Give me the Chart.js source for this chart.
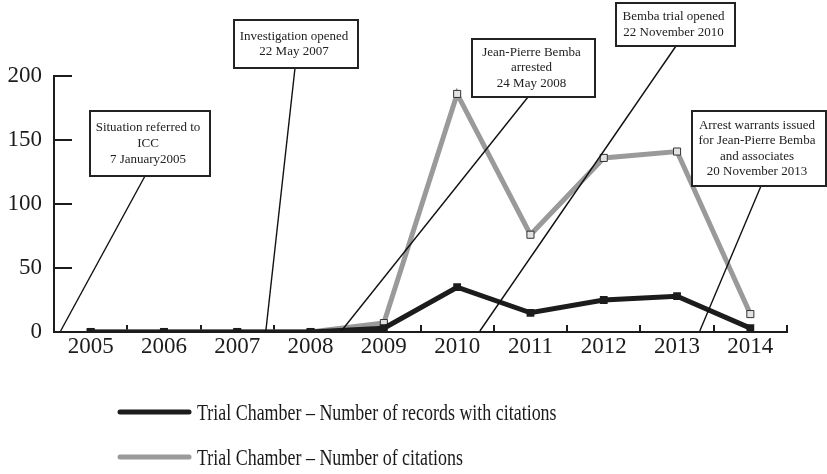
<!DOCTYPE html>
<html>
<head>
<meta charset="utf-8">
<script src="https://cdn.jsdelivr.net/npm/chart.js@4.4.0/dist/chart.umd.min.js"></script>
<style>
  html, body { margin: 0; padding: 0; background: #fff; }
  #wrap { width: 827px; height: 474px; }
</style>
</head>
<body>
<div id="wrap"><canvas id="graficoCitas" width="827" height="474"></canvas></div>
<script>
// data
const years = ['2005', '2006', '2007', '2008', '2009', '2010', '2011', '2012', '2013', '2014'];
const recordsWithCitations = [0, 0, 0, 0, 3, 35, 15, 25, 28, 3];
const numberOfCitations = [0, 0, 0, 0, 7, 186, 76, 136, 141, 14];
const yTicks = [0, 50, 100, 150, 200];
const seriesLabels = [
    'Trial Chamber \u2013 Number of records with citations',
    'Trial Chamber \u2013 Number of citations'
];
const eventTexts = [
    ['Situation referred to', 'ICC', '7 January2005'],
    ['Investigation opened', '22 May 2007'],
    ['Jean-Pierre Bemba', 'arrested', '24 May 2008'],
    ['Bemba trial opened', '22 November 2010'],
    ['Arrest warrants issued', 'for Jean-Pierre Bemba', 'and associates', '20 November 2013']
];

// where each leader line touches the x axis (category index units)
const eventAxisPos = [-0.41, 2.39, 3.42, 5.31, 8.31];
// callout boxes: left, top, width, height, x where the leader leaves the box
const calloutBoxes = [
    { left: 90, top: 111, w: 120, h: 65, lx: 145 },
    { left: 234, top: 20, w: 124, h: 48, lx: 295 },
    { left: 472, top: 39, w: 123, h: 58, lx: 528 },
    { left: 616, top: 3, w: 119, h: 43, lx: 676 },
    { left: 692, top: 111, w: 134, h: 75, lx: 761 }
];

const INK = '#1c1c1c';
const GRIS = '#9a9a9a';
const SERIF = '"Liberation Serif", "Times New Roman", serif';

// tick marks drawn inside the plot, like the original
const marcasEjes = {
    id: 'marcasEjes',
    beforeDatasetsDraw(chart) {
        const { ctx, scales: { x, y } } = chart;
        ctx.save();
        ctx.strokeStyle = INK;
        ctx.lineWidth = 2;
        ctx.beginPath();
        y.ticks.forEach((t) => {
            const py = Math.round(y.getPixelForValue(t.value));
            ctx.moveTo(x.left, py);
            ctx.lineTo(x.left + 18, py);
        });
        for (let i = 0; i <= years.length; i++) {
            const px = Math.round(x.getPixelForValue(i - 0.5));
            ctx.moveTo(px, y.bottom);
            ctx.lineTo(px, y.bottom - 7);
        }
        ctx.stroke();
        ctx.restore();
    }
};

const anotaciones = {
    id: 'anotaciones',
    afterDatasetsDraw(chart) {
        const { ctx, scales: { x, y } } = chart;
        ctx.save();
        // leader lines
        ctx.strokeStyle = '#111';
        ctx.lineWidth = 1.4;
        calloutBoxes.forEach((b, i) => {
            ctx.beginPath();
            ctx.moveTo(b.lx, b.top + b.h);
            ctx.lineTo(x.getPixelForValue(eventAxisPos[i]), y.getPixelForValue(0) - 1);
            ctx.stroke();
        });
        // boxes with text
        ctx.font = '13px ' + SERIF;
        ctx.textAlign = 'center';
        ctx.textBaseline = 'middle';
        calloutBoxes.forEach((b, i) => {
            ctx.fillStyle = '#fff';
            ctx.fillRect(b.left, b.top, b.w, b.h);
            ctx.strokeStyle = '#222';
            ctx.lineWidth = 2;
            ctx.strokeRect(b.left, b.top, b.w, b.h);
            const lineas = eventTexts[i];
            const paso = 15.6;
            const cy = b.top + b.h / 2;
            ctx.fillStyle = '#222';
            lineas.forEach((t, k) => {
                ctx.fillText(t, b.left + b.w / 2 - 2, cy + (k - (lineas.length - 1) / 2) * paso);
            });
        });
        ctx.restore();
    }
};

const leyenda = {
    id: 'leyenda',
    afterDraw(chart) {
        const { ctx } = chart;
        const filas = [412, 457];
        ctx.save();
        ctx.font = '23px ' + SERIF;
        ctx.textBaseline = 'middle';
        ctx.textAlign = 'left';
        chart.data.datasets.forEach((ds, i) => {
            ctx.strokeStyle = ds.borderColor;
            ctx.lineWidth = 5;
            ctx.lineCap = 'round';
            ctx.beginPath();
            ctx.moveTo(120, filas[i]);
            ctx.lineTo(189, filas[i]);
            ctx.stroke();
            ctx.fillStyle = '#1a1a1a';
            // the original type is horizontally condensed
            const ancho = ctx.measureText(ds.label).width * 0.78;
            ctx.fillText(ds.label, 197, filas[i] + 2, ancho);
        });
        ctx.restore();
    }
};

new Chart(document.getElementById('graficoCitas'), {
    type: 'line',
    data: {
        labels: years,
        datasets: [
            {
                label: seriesLabels[0],
                data: recordsWithCitations,
                borderColor: INK,
                borderWidth: 5,
                pointStyle: 'rect',
                pointRadius: 5.5,
                pointBackgroundColor: INK,
                pointBorderWidth: 0,
                tension: 0
            },
            {
                label: seriesLabels[1],
                data: numberOfCitations,
                borderColor: GRIS,
                borderWidth: 5,
                pointStyle: 'rect',
                pointRadius: 5,
                pointBackgroundColor: '#e2e2e2',
                pointBorderColor: '#333',
                pointBorderWidth: 1,
                tension: 0
            }
        ]
    },
    options: {
        responsive: false,
        animation: false,
        layout: { padding: { top: 76, right: 40, left: 0, bottom: 0 } },
        plugins: {
            legend: { display: false },
            tooltip: { enabled: false }
        },
        scales: {
            x: {
                offset: true,
                grid: { display: false, drawTicks: false },
                border: { display: true, color: INK, width: 2 },
                ticks: {
                    color: INK,
                    font: { family: SERIF, size: 23 },
                    padding: 1,
                    maxRotation: 0,
                    autoSkip: false
                },
                afterFit: (s) => { s.height = 142; }
            },
            y: {
                min: 0,
                max: 200,
                afterBuildTicks: (s) => { s.ticks = yTicks.map((v) => ({ value: v })); },
                grid: { display: false, drawTicks: false },
                border: { display: true, color: INK, width: 2 },
                ticks: {
                    color: INK,
                    font: { family: SERIF, size: 23 },
                    padding: 12
                },
                afterFit: (s) => { s.width = 54; }
            }
        }
    },
    plugins: [marcasEjes, anotaciones, leyenda]
});
</script>
</body>
</html>
